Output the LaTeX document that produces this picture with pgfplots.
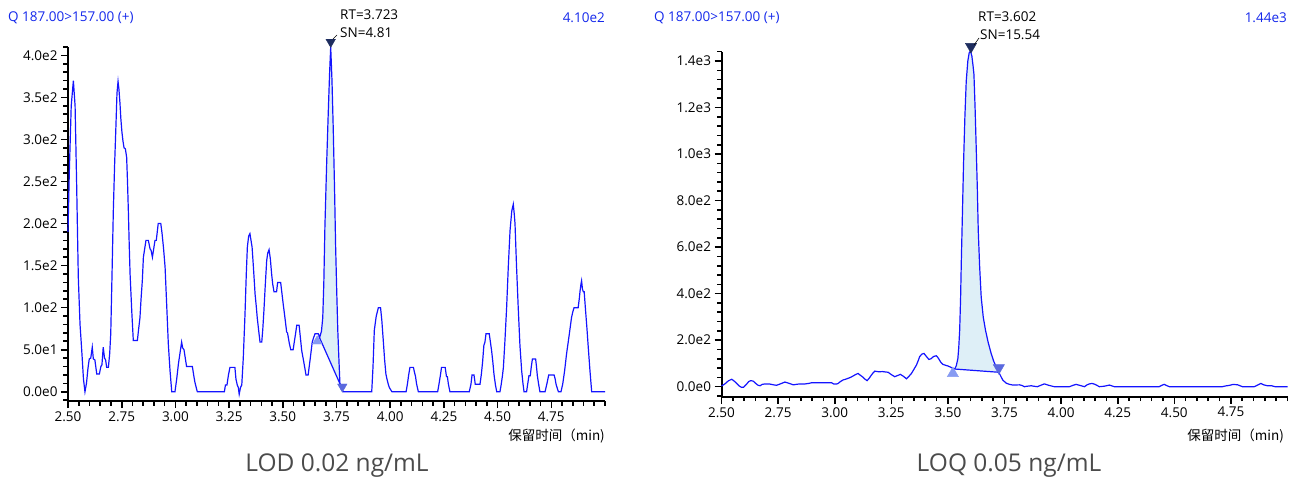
\documentclass[border=0pt]{standalone}
\usepackage{fontspec}
\setmainfont{Open Sans}
\newfontfamily\cjk{Noto Sans CJK SC}
\usepackage{pgfplots}
\pgfplotsset{compat=1.18}
\definecolor{trace}{RGB}{20,20,255}
\definecolor{hdr}{RGB}{20,40,235}
\definecolor{areafill}{RGB}{222,239,247}
\definecolor{apex}{RGB}{30,45,95}
\definecolor{startm}{RGB}{135,155,242}
\definecolor{endm}{RGB}{90,105,222}
\definecolor{capt}{RGB}{75,75,75}
\pgfplotsset{chrom/.style={
  scale only axis, clip=false,
  axis lines*=left,
  axis line style={-, line width=2pt, black},
  x axis line style={-, line width=2pt, black},
  y axis line style={-, line width=2pt, black},
  tick align=outside, major tick length=7pt, minor tick length=4.5pt,
  tick style={black, line width=1.6pt},
  major tick style={black, line width=1.6pt},
  minor tick style={black, line width=1.6pt},
  xmin=2.5, xmax=5.0,
  xtick={2.5,2.75,3.0,3.25,3.5,3.75,4.0,4.25,4.5,4.75},
  xticklabels={2.50,2.75,3.00,3.25,3.50,3.75,4.00,4.25,4.50,4.75},
  minor xtick={2.5,2.55,...,5.01},
  tick label style={font=\fontsize{13.5}{15}\selectfont, black},
}}
\begin{document}
\begin{tikzpicture}[x=1pt,y=1pt]
\useasboundingbox (0pt,0pt) rectangle (1289pt,479pt);
% ---------------- left chart ----------------
\begin{axis}[chrom, at={(68pt,78pt)}, anchor=south west, width=537pt, height=354pt,
  ymin=-11, ymax=410,
  ytick={0,50,100,150,200,250,300,350,400},
  yticklabels={0.0e0,5.0e1,1.0e2,1.5e2,2.0e2,2.5e2,3.0e2,3.5e2,4.0e2},
  minor ytick={-10,0,...,410}]
\addplot[draw=none, fill=areafill] coordinates {
(3.668,66) (3.672,65) (3.680,72) (3.686,88) (3.691,130) (3.696,196) (3.704,270) (3.712,335) (3.718,380) (3.723,410) (3.729,370) (3.735,311) (3.741,240) (3.746,172) (3.751,120) (3.756,73) (3.761,40) (3.766,9) (3.773,3) (3.779,2) (3.668,66)};
\addplot[trace, line width=1.2pt] coordinates {
(2.500,190) (2.506,260) (2.515,340) (2.525,370) (2.533,340) (2.540,250) (2.548,136) (2.556,80) (2.564,49) (2.572,15) (2.579,0) (2.586,10) (2.593,28) (2.599,39) (2.606,40) (2.613,53) (2.618,39) (2.625,38) (2.634,21) (2.646,21) (2.653,30) (2.658,32) (2.664,53) (2.670,40) (2.675,38) (2.680,29) (2.688,29) (2.694,45) (2.699,69) (2.705,140) (2.711,215) (2.717,270) (2.723,315) (2.728,355) (2.733,369) (2.737,360) (2.742,343) (2.746,325) (2.751,309) (2.756,298) (2.761,290) (2.767,289) (2.773,279) (2.777,250) (2.781,215) (2.785,175) (2.789,140) (2.797,95) (2.804,61) (2.823,61) (2.829,75) (2.835,88) (2.840,110) (2.846,132) (2.851,160) (2.857,170) (2.863,180) (2.874,180) (2.882,170) (2.887,168) (2.893,160) (2.899,170) (2.905,180) (2.911,180) (2.920,200) (2.932,200) (2.938,188) (2.945,170) (2.952,148) (2.960,100) (2.967,57) (2.975,25) (2.983,0) (2.998,0) (3.006,15) (3.014,33) (3.022,47) (3.029,59) (3.034,52) (3.040,50) (3.046,40) (3.052,30) (3.079,30) (3.085,20) (3.091,11) (3.102,0) (3.228,0) (3.233,8) (3.240,8) (3.247,20) (3.254,29) (3.277,29) (3.282,15) (3.288,8) (3.293,5) (3.297,-3) (3.303,5) (3.309,8) (3.316,40) (3.324,92) (3.330,140) (3.335,172) (3.341,185) (3.347,188) (3.352,180) (3.357,172) (3.364,145) (3.371,116) (3.377,100) (3.381,88) (3.388,72) (3.394,59) (3.402,59) (3.407,75) (3.412,96) (3.418,125) (3.425,156) (3.430,165) (3.436,169) (3.442,158) (3.448,140) (3.453,128) (3.459,119) (3.471,119) (3.476,130) (3.490,130) (3.496,117) (3.502,104) (3.510,88) (3.518,71) (3.522,70) (3.530,58) (3.537,50) (3.548,50) (3.554,60) (3.560,70) (3.565,79) (3.576,79) (3.582,64) (3.588,49) (3.598,35) (3.608,20) (3.618,20) (3.628,40) (3.637,59) (3.643,64) (3.650,69) (3.665,69) (3.672,65) (3.680,72) (3.686,88) (3.691,130) (3.696,196) (3.704,270) (3.712,335) (3.718,380) (3.723,410) (3.729,370) (3.735,311) (3.741,240) (3.746,172) (3.751,120) (3.756,73) (3.761,40) (3.766,9) (3.773,3) (3.781,0) (3.914,0) (3.920,30) (3.926,73) (3.935,90) (3.945,100) (3.955,100) (3.961,85) (3.968,60) (3.974,38) (3.980,21) (3.985,15) (3.991,9) (3.996,5) (4.008,0) (4.074,0) (4.080,9) (4.086,20) (4.092,29) (4.108,29) (4.114,22) (4.118,18) (4.123,9) (4.131,0) (4.221,0) (4.227,9) (4.234,20) (4.239,29) (4.256,29) (4.262,18) (4.266,18) (4.271,9) (4.278,0) (4.368,0) (4.376,9) (4.381,20) (4.390,20) (4.396,9) (4.418,9) (4.424,20) (4.430,35) (4.436,55) (4.441,59) (4.446,69) (4.461,69) (4.466,60) (4.472,49) (4.478,35) (4.483,21) (4.490,8) (4.496,0) (4.511,0) (4.517,9) (4.522,18) (4.527,29) (4.534,60) (4.542,100) (4.550,150) (4.558,192) (4.566,215) (4.573,223) (4.578,210) (4.581,200) (4.588,150) (4.596,100) (4.604,55) (4.612,25) (4.618,10) (4.623,0) (4.635,0) (4.640,9) (4.646,19) (4.652,19) (4.657,30) (4.662,39) (4.677,39) (4.681,30) (4.685,19) (4.691,9) (4.697,0) (4.721,0) (4.729,9) (4.734,15) (4.738,20) (4.763,20) (4.768,15) (4.772,9) (4.778,4) (4.783,0) (4.795,0) (4.803,9) (4.812,25) (4.821,45) (4.833,67) (4.844,88) (4.850,95) (4.856,100) (4.875,100) (4.880,110) (4.884,120) (4.888,128) (4.891,132) (4.895,122) (4.899,119) (4.903,119) (4.910,95) (4.916,75) (4.922,53) (4.930,25) (4.938,0) (5.000,0)};
\addplot[trace, line width=1.2pt] coordinates {(3.668,66) (3.779,2)};
\addplot[only marks, mark=triangle*, mark size=5.5pt, mark options={fill=startm, draw=startm}] coordinates {(3.660,60)};
\addplot[only marks, mark=triangle*, mark size=5.5pt, mark options={rotate=180, fill=endm, draw=endm}] coordinates {(3.777,6)};
\addplot[only marks, mark=triangle*, mark size=5.5pt, mark options={rotate=180, fill=apex, draw=apex}] coordinates {(3.723,416)};
\end{axis}
% ---------------- right chart ----------------
\begin{axis}[chrom, at={(721.5pt,82.3pt)}, anchor=south west, width=566pt, height=345pt,
  ymin=-43, ymax=1440,
  ytick={0,200,400,600,800,1000,1200,1400},
  yticklabels={0.0e0,2.0e2,4.0e2,6.0e2,8.0e2,1.0e3,1.2e3,1.4e3},
  minor ytick={-40,0,...,1440}]
\addplot[draw=none, fill=areafill] coordinates {
(3.530,76) (3.537,90) (3.544,121) (3.548,170) (3.552,243) (3.556,380) (3.559,529) (3.564,740) (3.569,957) (3.575,1160) (3.581,1314) (3.588,1400) (3.594,1435) (3.600,1443) (3.606,1420) (3.611,1380) (3.615,1343) (3.620,1200) (3.625,1029) (3.630,850) (3.634,672) (3.640,520) (3.647,386) (3.656,300) (3.666,243) (3.678,190) (3.691,143) (3.702,110) (3.713,86) (3.720,70) (3.725,62) (3.530,76)};
\addplot[trace, line width=1.2pt] coordinates {
(2.500,3) (2.515,12) (2.530,25) (2.545,32) (2.555,25) (2.566,15) (2.578,3) (2.589,-3) (2.598,-2) (2.610,10) (2.620,22) (2.629,26) (2.640,24) (2.650,15) (2.660,7) (2.670,4) (2.680,10) (2.692,12) (2.710,12) (2.720,10) (2.730,8) (2.743,6) (2.760,12) (2.780,20) (2.800,14) (2.817,8) (2.830,10) (2.846,12) (2.870,12) (2.885,14) (2.898,17) (2.986,17) (2.995,12) (3.010,12) (3.015,14) (3.025,22) (3.037,29) (3.048,32) (3.059,36) (3.070,40) (3.081,46) (3.092,52) (3.103,57) (3.112,50) (3.122,43) (3.133,33) (3.143,26) (3.152,36) (3.162,50) (3.170,60) (3.177,67) (3.195,64) (3.210,65) (3.236,62) (3.250,52) (3.265,43) (3.278,48) (3.290,53) (3.303,45) (3.317,34) (3.328,45) (3.339,57) (3.350,75) (3.361,93) (3.370,115) (3.375,129) (3.385,140) (3.394,143) (3.405,130) (3.416,117) (3.425,120) (3.437,130) (3.449,133) (3.456,125) (3.463,114) (3.470,103) (3.478,96) (3.490,92) (3.500,89) (3.512,84) (3.522,79) (3.530,76) (3.537,90) (3.544,121) (3.548,170) (3.552,243) (3.556,380) (3.559,529) (3.564,740) (3.569,957) (3.575,1160) (3.581,1314) (3.588,1400) (3.594,1435) (3.600,1443) (3.606,1420) (3.611,1380) (3.615,1343) (3.620,1200) (3.625,1029) (3.630,850) (3.634,672) (3.640,520) (3.647,386) (3.656,300) (3.666,243) (3.678,190) (3.691,143) (3.702,110) (3.713,86) (3.720,70) (3.725,62) (3.732,48) (3.742,29) (3.752,20) (3.758,15) (3.772,10) (3.787,7) (3.816,8) (3.828,5) (3.838,0) (3.850,2) (3.868,4) (3.880,2) (3.895,0) (3.910,6) (3.926,12) (3.945,6) (3.970,0) (4.037,0) (4.050,5) (4.066,10) (4.085,5) (4.103,0) (4.115,8) (4.125,12) (4.137,14) (4.150,10) (4.169,0) (4.190,2) (4.213,7) (4.235,0) (4.433,0) (4.445,6) (4.455,10) (4.466,5) (4.478,0) (4.712,0) (4.725,3) (4.745,6) (4.760,10) (4.780,8) (4.801,0) (4.853,0) (4.870,8) (4.882,14) (4.895,8) (4.911,4) (4.930,4) (4.945,0) (4.963,0) (5.000,0)};
\addplot[trace, line width=1.2pt] coordinates {(3.530,76) (3.725,62)};
\addplot[only marks, mark=triangle*, mark size=6.5pt, mark options={fill=startm, draw=startm}] coordinates {(3.522,57)};
\addplot[only marks, mark=triangle*, mark size=6.5pt, mark options={rotate=180, fill=endm, draw=endm}] coordinates {(3.725,81)};
\addplot[only marks, mark=triangle*, mark size=6.5pt, mark options={rotate=180, fill=apex, draw=apex}] coordinates {(3.602,1462)};
\end{axis}
% ---------------- texts ----------------
\begin{scope}[every node/.style={inner sep=0pt, font=\fontsize{13.5}{15}\selectfont}]
\node[anchor=west, text=hdr] at (8pt,461pt) {Q 187.00>157.00 (+)};
\node[anchor=east, text=hdr] at (605pt,461pt) {4.10e2};
\node[anchor=west, text=hdr] at (654pt,461pt) {Q 187.00>157.00 (+)};
\node[anchor=east, text=hdr] at (1287pt,461pt) {1.44e3};
\node[anchor=west] at (340pt,464pt) {RT=3.723};
\node[anchor=west] at (340pt,446pt) {SN=4.81};
\node[anchor=west] at (978pt,462pt) {RT=3.602};
\node[anchor=west] at (980pt,444pt) {SN=15.54};
\node[anchor=east] at (605pt,43pt) {\cjk 保留时间（min)};
\node[anchor=east] at (1284pt,43pt) {\cjk 保留时间（min)};
\node[text=capt, font=\fontsize{24.5}{28}\selectfont] at (337pt,13pt) {LOD 0.02 ng/mL};
\node[text=capt, font=\fontsize{24.5}{28}\selectfont] at (1009pt,13pt) {LOQ 0.05 ng/mL};
\end{scope}
\draw[black, line width=0.6pt] (333pt,440pt) -- (337pt,444pt);
\draw[black, line width=0.6pt] (974pt,434pt) -- (979pt,441pt);
\end{tikzpicture}
\end{document}
